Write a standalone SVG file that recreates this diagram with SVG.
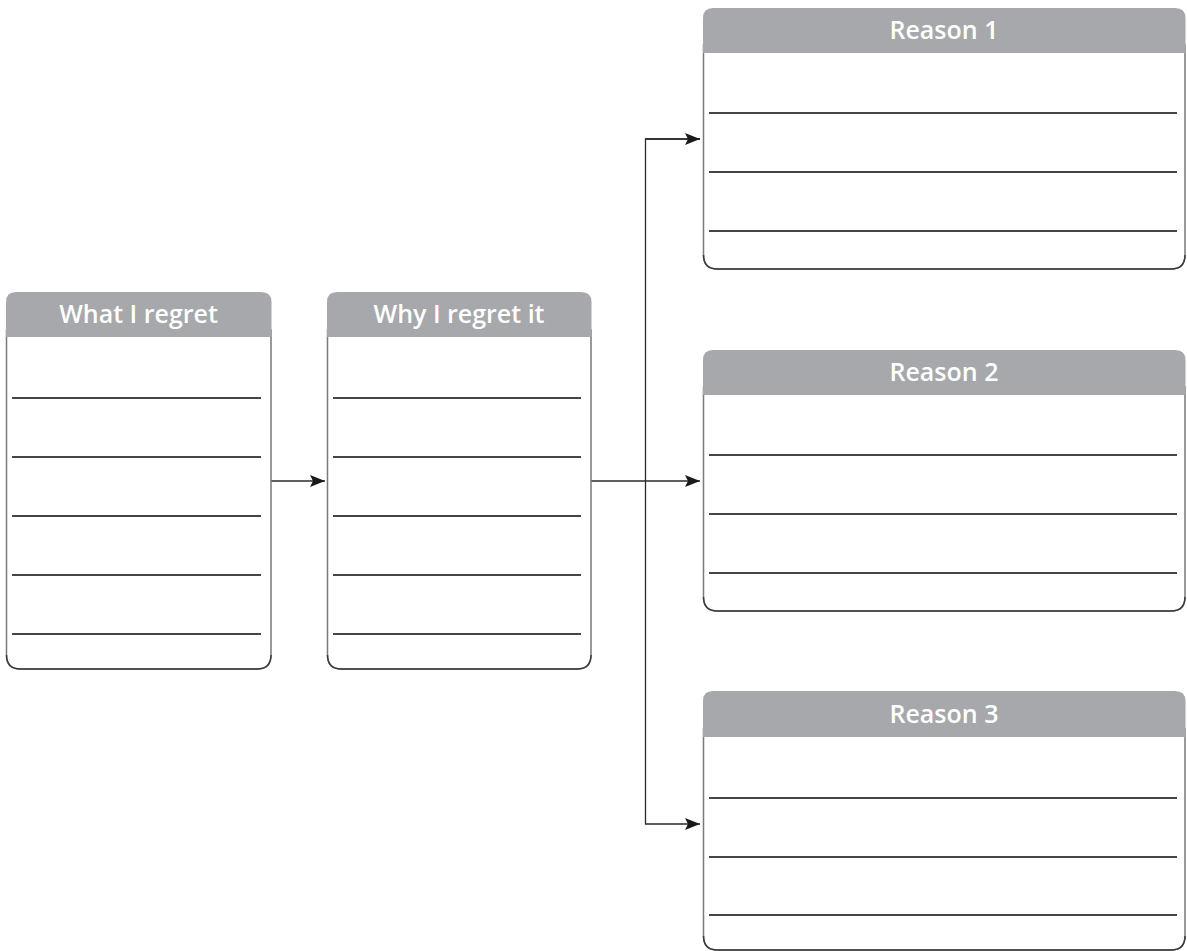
<svg xmlns="http://www.w3.org/2000/svg" width="1187" height="951" viewBox="0 0 1187 951">
<style>
.hdr{fill:#a7a8ab}
.body{fill:#fff;stroke:#7a7a7a;stroke-width:1.5}
.bot{fill:none;stroke:#3a3a3a;stroke-width:1.5}
.ln{stroke:#454545;stroke-width:2.2}
.t{font-family:"Open Sans","Noto Sans",sans-serif;font-weight:600;font-size:25px;fill:#fff;text-anchor:middle}
.c{fill:none;stroke:#2a2a2a;stroke-width:1.3}
</style>
<defs>
<marker id="ah" markerWidth="16" markerHeight="12" refX="15" refY="6" orient="auto" markerUnits="userSpaceOnUse">
<path d="M0,0 L15,6 L0,12 L3,6 Z" fill="#1a1a1a"/>
</marker>
</defs>
<rect width="1187" height="951" fill="#fff"/>

<g id="what">
<path class="body" d="M6.5,330 V655 Q6.5,669 20.5,669 H257 Q271,669 271,655 V330 Z"/>
<path class="bot" d="M6.5,655 Q6.5,669 20.5,669 H257 Q271,669 271,655"/>
<path class="hdr" d="M6,337 V302 Q6,292 16,292 H261 Q271.5,292 271.5,302 V337 Z"/>
<text class="t" x="138.5" y="323">What I regret</text>
<line class="ln" x1="12" y1="398" x2="261" y2="398"/>
<line class="ln" x1="12" y1="457" x2="261" y2="457"/>
<line class="ln" x1="12" y1="516" x2="261" y2="516"/>
<line class="ln" x1="12" y1="575" x2="261" y2="575"/>
<line class="ln" x1="12" y1="634" x2="261" y2="634"/>
</g>

<g id="why">
<path class="body" d="M327.5,330 V655 Q327.5,669 341.5,669 H577 Q591,669 591,655 V330 Z"/>
<path class="bot" d="M327.5,655 Q327.5,669 341.5,669 H577 Q591,669 591,655"/>
<path class="hdr" d="M327,337 V302 Q327,292 337,292 H581 Q591.5,292 591.5,302 V337 Z"/>
<text class="t" x="459" y="323">Why I regret it</text>
<line class="ln" x1="333" y1="398" x2="581" y2="398"/>
<line class="ln" x1="333" y1="457" x2="581" y2="457"/>
<line class="ln" x1="333" y1="516" x2="581" y2="516"/>
<line class="ln" x1="333" y1="575" x2="581" y2="575"/>
<line class="ln" x1="333" y1="634" x2="581" y2="634"/>
</g>

<g id="reason1">
<path class="body" d="M703.5,45 V255 Q703.5,269 717.5,269 H1171 Q1185,269 1185,255 V45 Z"/>
<path class="bot" d="M703.5,255 Q703.5,269 717.5,269 H1171 Q1185,269 1185,255"/>
<path class="hdr" d="M703,53 V18 Q703,8 713,8 H1175 Q1185.5,8 1185.5,18 V53 Z"/>
<text class="t" x="944" y="39">Reason 1</text>
<line class="ln" x1="709" y1="113" x2="1177" y2="113"/>
<line class="ln" x1="709" y1="172" x2="1177" y2="172"/>
<line class="ln" x1="709" y1="231" x2="1177" y2="231"/>
</g>

<g id="reason2">
<path class="body" d="M703.5,387 V597 Q703.5,611 717.5,611 H1171 Q1185,611 1185,597 V387 Z"/>
<path class="bot" d="M703.5,597 Q703.5,611 717.5,611 H1171 Q1185,611 1185,597"/>
<path class="hdr" d="M703,395 V360 Q703,350 713,350 H1175 Q1185.5,350 1185.5,360 V395 Z"/>
<text class="t" x="944" y="381">Reason 2</text>
<line class="ln" x1="709" y1="455" x2="1177" y2="455"/>
<line class="ln" x1="709" y1="514" x2="1177" y2="514"/>
<line class="ln" x1="709" y1="573" x2="1177" y2="573"/>
</g>

<g id="reason3">
<path class="body" d="M703.5,729 V936 Q703.5,950 717.5,950 H1171 Q1185,950 1185,936 V729 Z"/>
<path class="bot" d="M703.5,936 Q703.5,950 717.5,950 H1171 Q1185,950 1185,936"/>
<path class="hdr" d="M703,737 V701 Q703,691 713,691 H1175 Q1185.5,691 1185.5,701 V737 Z"/>
<text class="t" x="944" y="723">Reason 3</text>
<line class="ln" x1="709" y1="798" x2="1177" y2="798"/>
<line class="ln" x1="709" y1="857" x2="1177" y2="857"/>
<line class="ln" x1="709" y1="915" x2="1177" y2="915"/>
</g>

<g id="connectors">
<line class="c" x1="271.5" y1="481" x2="325" y2="481" marker-end="url(#ah)"/>
<line class="c" x1="591.5" y1="481" x2="700" y2="481" marker-end="url(#ah)"/>
<path class="c" d="M700,139 H645.5 V824 H700" marker-end="url(#ah)"/>
<line class="c" x1="645.5" y1="139" x2="700" y2="139" marker-end="url(#ah)"/>
</g>
</svg>
